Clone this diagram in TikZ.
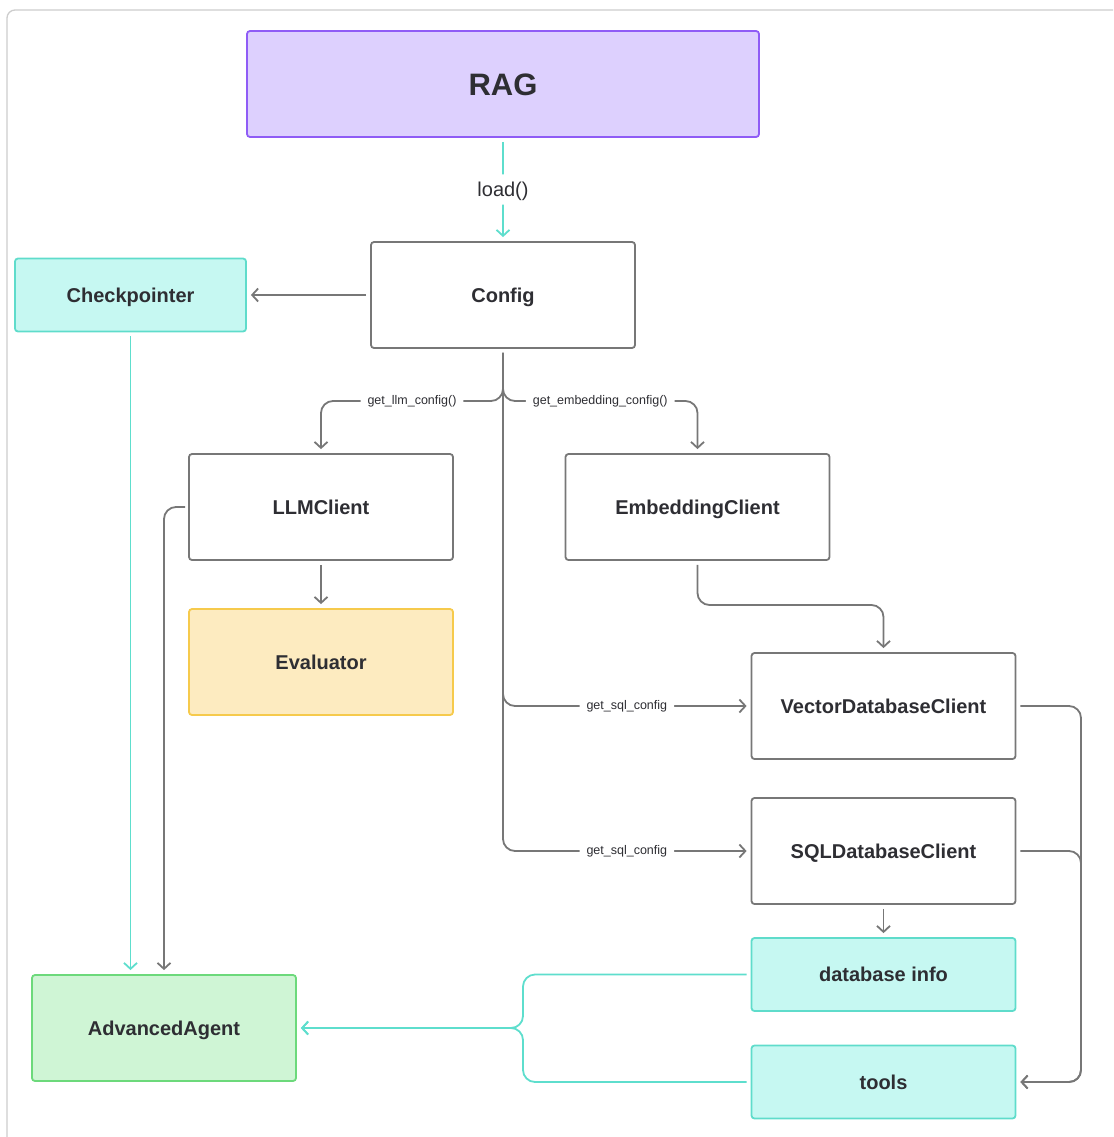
\documentclass[tikz,border=0pt]{standalone}
\usepackage{fontspec}
\setmainfont{Liberation Sans}
\usetikzlibrary{arrows.meta}
\definecolor{linegrey}{HTML}{777777}
\definecolor{lineteal}{HTML}{5EDECD}
\definecolor{txt}{HTML}{2E2E33}
\definecolor{ragfill}{HTML}{DDD0FE}
\definecolor{ragdraw}{HTML}{8F5CF6}
\definecolor{cyfill}{HTML}{C6F8F2}
\definecolor{cydraw}{HTML}{5FDCCB}
\definecolor{yefill}{HTML}{FDEBC0}
\definecolor{yedraw}{HTML}{F6CA4C}
\definecolor{grfill}{HTML}{CFF5D5}
\definecolor{grdraw}{HTML}{6CD97B}
\definecolor{framegrey}{HTML}{CDCDCD}
\tikzset{
  box/.style={rectangle, rounded corners=3pt, line width=1.8pt, draw=linegrey,
    fill=white, text=txt, font=\bfseries\fontsize{20}{24}\selectfont,
    text height=14.4pt, text depth=0pt,
    minimum width=264pt, minimum height=106pt, inner sep=0pt},
  cybox/.style={box, draw=cydraw, fill=cyfill, minimum height=73pt},
  conn/.style={draw=linegrey, line width=1.8pt, rounded corners=12pt,
    -{Straight Barb[length=6pt,width=13pt,line width=1.8pt]},
    shorten >=4pt, shorten <=4pt},
  tconn/.style={conn, draw=lineteal},
  lbl/.style={fill=white, text=txt, inner sep=7pt,
    font=\fontsize{12.5}{15}\selectfont},
}
\begin{document}
\begin{tikzpicture}[x=1pt,y=-1pt]
\useasboundingbox (0,0) rectangle (1113,1137);
% outer frame
\begin{scope}
\clip (0,0) rectangle (1113,1137);
\draw[framegrey, line width=1.3pt, rounded corners=8pt] (7,10) rectangle (1140,1170);
\end{scope}

% boxes
\node[box, draw=ragdraw, fill=ragfill, minimum width=512pt, minimum height=106pt,
  font=\bfseries\fontsize{31}{36}\selectfont, text height=22.3pt] (rag) at (503,84) {RAG};
\node[box] (cfg) at (503,295) {Config};
\node[cybox, minimum width=231pt] (chk) at (130.5,295) {Checkpointer};
\node[box] (llm) at (321,507) {LLMClient};
\node[box] (emb) at (697.5,507) {EmbeddingClient};
\node[box, draw=yedraw, fill=yefill] (eva) at (321,662) {Evaluator};
\node[box] (vdb) at (883.5,706) {VectorDatabaseClient};
\node[box] (sql) at (883.5,851) {SQLDatabaseClient};
\node[cybox] (dbi) at (883.5,974.5) {database info};
\node[cybox] (tls) at (883.5,1082) {tools};
\node[box, draw=grdraw, fill=grfill] (aa) at (164,1028) {AdvancedAgent};

% helper coordinates for the routing
\coordinate (jn) at (503,401);
\coordinate (ey) at (0,605);
\coordinate (rt) at (1081,0);
\coordinate (mx) at (523,0);
\coordinate (lx) at (164,0);

% RAG -> Config
\draw[tconn] (rag.south) -- node[lbl, text=txt, font=\fontsize{20}{24}\selectfont,
  text height=14.4pt, text depth=0pt, inner sep=8pt] {load()} (cfg.north);
% Config -> Checkpointer
\draw[conn] (cfg.west) -- (chk.east);
% Config -> LLMClient / EmbeddingClient
\draw[conn] (cfg.south) |- node[lbl, pos=0.75] {get\_llm\_config()} (llm.north |- jn) -- (llm.north);
\draw[conn] (cfg.south) |- node[lbl, pos=0.75] {get\_embedding\_config()} (emb.north |- jn) -- (emb.north);
% Config -> database clients
\draw[conn] (cfg.south) |- node[lbl, pos=0.75] {get\_sql\_config} (vdb.west);
\draw[conn] (cfg.south) |- node[lbl, pos=0.75] {get\_sql\_config} (sql.west);
% LLMClient -> Evaluator
\draw[conn] (llm.south) -- (eva.north);
% EmbeddingClient -> VectorDatabaseClient
\draw[conn] (emb.south) -- (emb.south |- ey) -| (vdb.north);
% SQLDatabaseClient -> database info
\draw[conn] (sql.south) -- (dbi.north);
% database clients -> tools
\draw[conn] (vdb.east) -| (rt |- tls.east) -- (tls.east);
\draw[conn] (sql.east) -| (rt |- tls.east) -- (tls.east);
% into AdvancedAgent
\draw[tconn] (chk.south) -- (chk.south |- aa.north);
\draw[conn, shorten <=3pt] (llm.west) -| (lx |- aa.north);
\draw[tconn] (dbi.west) -| (mx |- aa.east) -- (aa.east);
\draw[tconn] (tls.west) -| (mx |- aa.east) -- (aa.east);
\end{tikzpicture}
\end{document}
